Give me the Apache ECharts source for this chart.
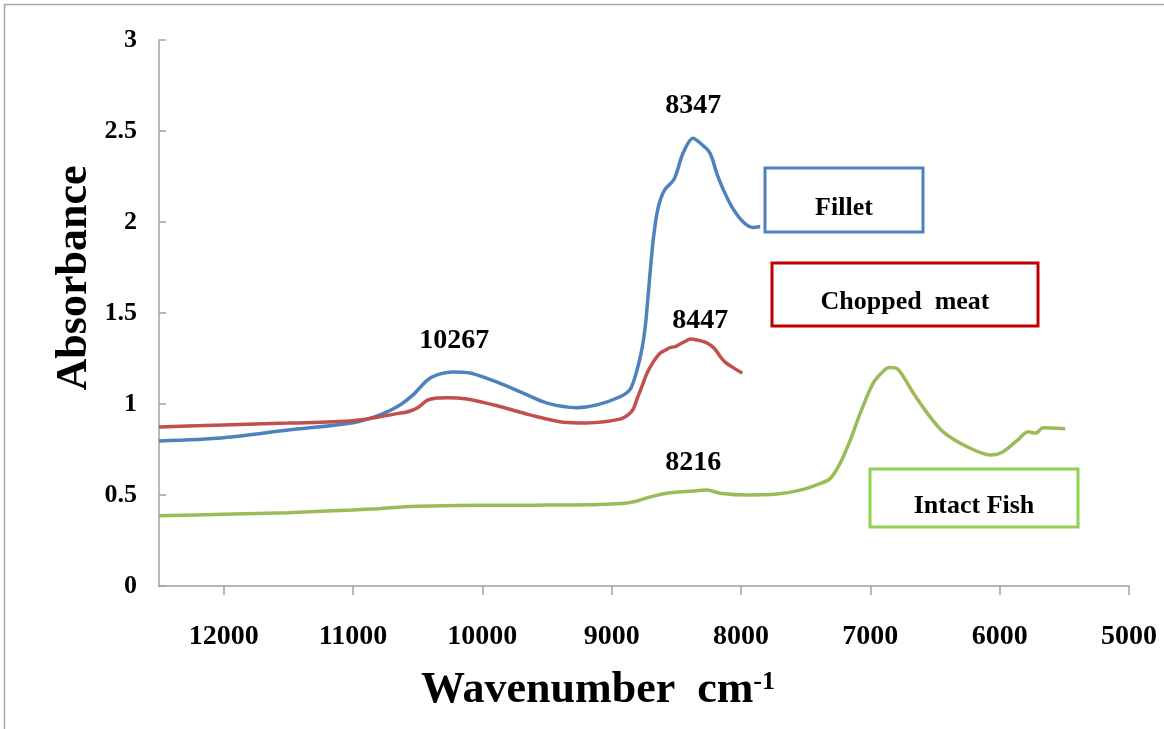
<!DOCTYPE html>
<html>
<head>
<meta charset="utf-8">
<script src="https://cdn.jsdelivr.net/npm/echarts@6/dist/echarts.min.js"></script>
<style>
    html, body { margin: 0; padding: 0; background: #fff; }
    #nir-chart { width: 1164px; height: 729px; }
</style>
</head>
<body>
<div id="nir-chart"></div>
<script>
// spectra: [wavenumber, absorbance]
const filletData = [
    [12500, 0.797], [12000, 0.815], [11500, 0.857], [11000, 0.897], [10791, 0.94],
    [10636, 0.995], [10536, 1.05], [10427, 1.13], [10350, 1.16], [10226, 1.176],
    [10095, 1.17], [9886, 1.12], [9685, 1.06], [9499, 1.005], [9267, 0.98],
    [9113, 0.995], [8935, 1.04], [8857, 1.08], [8803, 1.19], [8764, 1.31],
    [8741, 1.42], [8720, 1.58], [8703, 1.72], [8679, 1.90], [8649, 2.05],
    [8620, 2.13], [8587, 2.18], [8517, 2.236], [8447, 2.38], [8372, 2.46],
    [8293, 2.42], [8250, 2.39], [8223, 2.35], [8184, 2.26], [8138, 2.18],
    [8068, 2.08], [7983, 2.0], [7906, 1.97], [7852, 1.975]
];
const choppedData = [
    [12500, 0.873], [12000, 0.885], [11500, 0.895], [11000, 0.908], [10791, 0.93],
    [10636, 0.95], [10582, 0.956], [10500, 0.98], [10427, 1.02], [10350, 1.033],
    [10273, 1.035], [10118, 1.027], [9886, 0.99], [9631, 0.94], [9375, 0.90],
    [9190, 0.896], [8935, 0.917], [8873, 0.94], [8834, 0.97], [8803, 1.03],
    [8770, 1.09], [8726, 1.17], [8679, 1.23], [8625, 1.28], [8587, 1.295],
    [8548, 1.31], [8509, 1.315], [8471, 1.33], [8430, 1.345], [8393, 1.357],
    [8340, 1.352], [8277, 1.34], [8230, 1.32], [8200, 1.30], [8160, 1.26],
    [8123, 1.23], [8060, 1.20], [7991, 1.17]
];
const intactData = [
    [12500, 0.386], [12000, 0.394], [11500, 0.403], [11000, 0.418], [10800, 0.425],
    [10600, 0.435], [10400, 0.44], [10000, 0.443], [9600, 0.444], [9399, 0.445],
    [9100, 0.448], [8880, 0.456], [8803, 0.467], [8700, 0.49], [8571, 0.51],
    [8400, 0.52], [8262, 0.527], [8161, 0.51], [7953, 0.50], [7720, 0.505],
    [7542, 0.527], [7400, 0.56], [7311, 0.59], [7233, 0.675], [7156, 0.80],
    [7078, 0.95], [6978, 1.115], [6900, 1.18], [6854, 1.20], [6785, 1.19],
    [6668, 1.06], [6560, 0.95], [6437, 0.847], [6251, 0.765], [6073, 0.72],
    [5980, 0.735], [5864, 0.80], [5779, 0.847], [5725, 0.84], [5663, 0.87],
    [5600, 0.868], [5493, 0.864]
];

// peak labels: text and the point (wavenumber, absorbance) they sit at
const filletPeaks = [['10267', 10218, 1.35], ['8347', 8370, 2.64]];
const choppedPeaks = [['8447', 8316, 1.46]];
const intactPeaks = [['8216', 8370, 0.676]];

const seriesNames = ['Fillet', 'Chopped  meat', 'Intact Fish'];

const FONT = '"Liberation Serif", "Times New Roman", serif';

const chartDom = document.getElementById('nir-chart');
const chart = echarts.init(chartDom);

const peakMarks = (peaks) => ({
    symbol: 'rect',
    symbolSize: 1,
    itemStyle: { color: 'rgba(0,0,0,0)' },
    label: {
        show: true,
        position: 'inside',
        formatter: (p) => p.name,
        color: '#000',
        fontFamily: FONT,
        fontWeight: 'bold',
        fontSize: 28
    },
    data: peaks.map(p => ({ name: p[0], coord: [p[1], p[2]] }))
});

// boxed series names, placed like the original text boxes
const tag = (x, y, w, h, color, text) => ({
    type: 'group',
    children: [
        {
            type: 'rect',
            shape: { x: x, y: y, width: w, height: h },
            style: { fill: '#fff', stroke: color, lineWidth: 3 }
        },
        {
            type: 'text',
            x: x + w / 2,
            y: y + h / 2 + 8,
            style: {
                text: text,
                align: 'center',
                verticalAlign: 'middle',
                fill: '#000',
                font: 'bold 26px ' + FONT
            }
        }
    ]
});

var option;

option = {
    animation: false,
    backgroundColor: '#fff',
    grid: { left: 159, top: 40, right: 35, bottom: 143 },
    xAxis: {
        type: 'value',
        inverse: true,
        min: 5000,
        max: 12500,
        interval: 1000,
        axisLine: { show: true, onZero: false, lineStyle: { color: '#A0A0A0', width: 1.5 } },
        axisTick: { show: true, length: 9, lineStyle: { color: '#A0A0A0', width: 1.5 } },
        splitLine: { show: false },
        axisLabel: {
            margin: 37,
            showMaxLabel: false,
            color: '#000',
            fontFamily: FONT,
            fontWeight: 'bold',
            fontSize: 28,
            formatter: (v) => (v === 12500 ? '' : String(v))
        }
    },
    yAxis: {
        type: 'value',
        min: 0,
        max: 3,
        interval: 0.5,
        axisLine: { show: true, lineStyle: { color: '#A0A0A0', width: 1.5 } },
        axisTick: { show: true, inside: true, length: 7, lineStyle: { color: '#A0A0A0', width: 1.5 } },
        splitLine: { show: false },
        axisLabel: {
            margin: 22,
            color: '#000',
            fontFamily: FONT,
            fontWeight: 'bold',
            fontSize: 26
        }
    },
    series: [
        {
            name: seriesNames[0],
            type: 'line',
            data: filletData,
            symbol: 'none',
            smooth: 0.3,
            lineStyle: { color: '#4F81BD', width: 3.5 },
            markPoint: peakMarks(filletPeaks)
        },
        {
            name: seriesNames[1],
            type: 'line',
            data: choppedData,
            symbol: 'none',
            smooth: 0.3,
            lineStyle: { color: '#C0504D', width: 3.5 },
            markPoint: peakMarks(choppedPeaks)
        },
        {
            name: seriesNames[2],
            type: 'line',
            data: intactData,
            symbol: 'none',
            smooth: 0.3,
            lineStyle: { color: '#9BBB59', width: 3.5 },
            markPoint: peakMarks(intactPeaks)
        }
    ],
    graphic: [
        {
            type: 'rect',
            shape: { x: 4.5, y: 4.5, width: 1200, height: 800 },
            style: { fill: 'none', stroke: '#A6A6A6', lineWidth: 1.5 },
            silent: true
        },
        {
            type: 'text',
            x: 75,
            y: 278,
            rotation: Math.PI / 2,
            style: {
                text: 'Absorbance',
                align: 'center',
                verticalAlign: 'middle',
                fill: '#000',
                font: 'bold 44px ' + FONT
            }
        },
        {
            type: 'text',
            x: 598,
            y: 691,
            style: {
                text: '{a|Wavenumber  cm}{s|-1}',
                align: 'center',
                verticalAlign: 'middle',
                rich: {
                    a: { fontSize: 44, fontWeight: 'bold', fontFamily: FONT, fill: '#000', color: '#000' },
                    s: { fontSize: 26, fontWeight: 'bold', fontFamily: FONT, fill: '#000', color: '#000', verticalAlign: 'top', padding: [0, 0, 16, 0] }
                }
            }
        },
        tag(765, 168, 158, 64, '#4F81BD', 'Fillet'),
        tag(772, 263, 266, 63, '#C00000', 'Chopped  meat'),
        tag(870, 469, 208, 58, '#92D050', 'Intact Fish')
    ]
};

option && chart.setOption(option);
</script>
</body>
</html>
